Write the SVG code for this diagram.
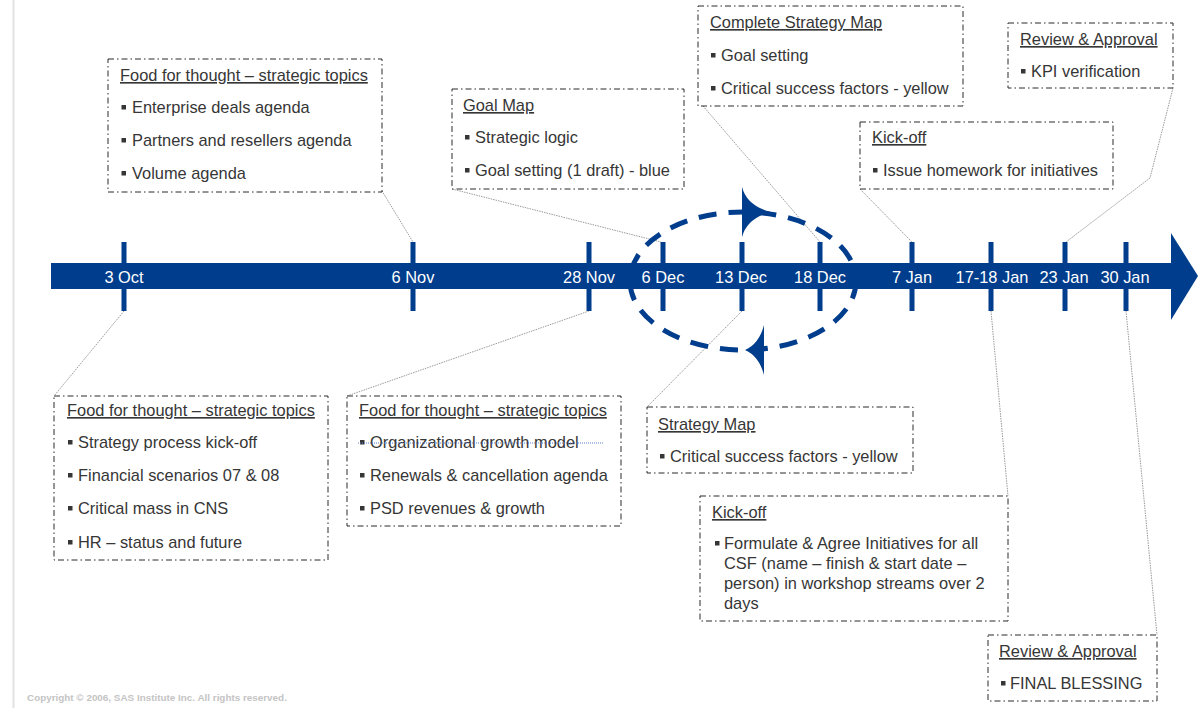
<svg xmlns="http://www.w3.org/2000/svg" width="1204" height="708" viewBox="0 0 1204 708">
  <style>
    text { font-family: "Liberation Sans", Arial, sans-serif; font-size: 16.4px; fill: #363636; }
    .title { text-decoration: underline; }
    .date { fill: #ffffff; text-anchor: middle; }
    .box { fill: #ffffff; stroke: #2a2a2a; stroke-width: 1; stroke-dasharray: 6 3 1.5 3; }
    .bul { fill: #363636; }
    .link { fill: none; stroke: #9a9a9a; stroke-width: 1; stroke-dasharray: 1.5 1; }
    .tick { fill: #003d8c; }
    .copy { font-size: 9.9px; font-weight: bold; fill: #c4c4c4; }
  </style>
  <defs>
    <rect id="bullet" width="4.5" height="4.5"/>
  </defs>

  <rect width="1204" height="708" fill="#ffffff"/>
  <!-- page edge -->
  <rect x="12.5" y="0" width="2" height="708" fill="#e2e2e2"/>

  <!-- call-out leader lines -->
  <g id="connectors">
    <line class="link" x1="382" y1="191" x2="413" y2="242"/>
    <line class="link" x1="452" y1="189" x2="661" y2="242"/>
    <line class="link" x1="703" y1="106" x2="820" y2="242"/>
    <line class="link" x1="860" y1="189" x2="912" y2="242"/>
    <polyline class="link" points="1173,88 1150,178 1066,242"/>
    <line class="link" x1="124" y1="311" x2="54" y2="396"/>
    <line class="link" x1="589" y1="311" x2="347" y2="396"/>
    <line class="link" x1="742" y1="311" x2="647" y2="407"/>
    <line class="link" x1="991" y1="311" x2="1008" y2="496"/>
    <line class="link" x1="1126" y1="311" x2="1157" y2="635"/>
  </g>

  <!-- timeline -->
  <g id="timeline">
    <rect x="51" y="263" width="1122" height="26" fill="#003d8c"/>
    <polygon points="1171,233 1198,276 1171,320" fill="#003d8c"/>
    <rect class="tick" x="121.5" y="242" width="5" height="69"/>
    <rect class="tick" x="410.5" y="242" width="5" height="69"/>
    <rect class="tick" x="586.5" y="242" width="5" height="69"/>
    <rect class="tick" x="660.5" y="242" width="5" height="69"/>
    <rect class="tick" x="739.5" y="242" width="5" height="69"/>
    <rect class="tick" x="817.5" y="242" width="5" height="69"/>
    <rect class="tick" x="909.5" y="242" width="5" height="69"/>
    <rect class="tick" x="988.5" y="242" width="5" height="69"/>
    <rect class="tick" x="1062.5" y="242" width="5" height="69"/>
    <rect class="tick" x="1123.5" y="242" width="5" height="69"/>
    <text class="date" x="124" y="283">3 Oct</text>
    <text class="date" x="413" y="283">6 Nov</text>
    <text class="date" x="589" y="283">28 Nov</text>
    <text class="date" x="663" y="283">6 Dec</text>
    <text class="date" x="741" y="283">13 Dec</text>
    <text class="date" x="820" y="283">18 Dec</text>
    <text class="date" x="912" y="283">7 Jan</text>
    <text class="date" x="992" y="283">17-18 Jan</text>
    <text class="date" x="1064" y="283">23 Jan</text>
    <text class="date" x="1125" y="283">30 Jan</text>
  </g>

  <!-- iteration loop around December -->
  <g id="cycle">
    <ellipse cx="743" cy="281" rx="113" ry="69" fill="none" stroke="#003d8c" stroke-width="5" stroke-dasharray="18 12"/>
    <path d="M742,187 Q747,206 771,212 Q747,218 742,237 Z" fill="#003d8c"/>
    <path d="M764,325 Q759,344 745,350 Q759,356 764,375 Z" fill="#003d8c"/>
  </g>

  <g id="food-nov">
    <rect class="box" x="108" y="59" width="274" height="133"/>
    <text class="title" x="120" y="81">Food for thought – strategic topics</text>
    <use href="#bullet" class="bul" x="121.5" y="105"/>
    <text x="132" y="113">Enterprise deals agenda</text>
    <use href="#bullet" class="bul" x="121.5" y="138"/>
    <text x="132" y="146">Partners and resellers agenda</text>
    <use href="#bullet" class="bul" x="121.5" y="171"/>
    <text x="132" y="179">Volume agenda</text>
  </g>

  <g id="goal-map">
    <rect class="box" x="452" y="89" width="232" height="100"/>
    <text class="title" x="463" y="111">Goal Map</text>
    <use href="#bullet" class="bul" x="465" y="135"/>
    <text x="475" y="143">Strategic logic</text>
    <use href="#bullet" class="bul" x="465" y="168"/>
    <text x="475" y="176">Goal setting (1 draft) - blue</text>
  </g>

  <g id="complete-strategy-map">
    <rect class="box" x="698" y="6" width="265" height="100"/>
    <text class="title" x="710" y="28">Complete Strategy Map</text>
    <use href="#bullet" class="bul" x="711" y="53"/>
    <text x="721" y="61">Goal setting</text>
    <use href="#bullet" class="bul" x="711" y="86"/>
    <text x="721" y="94">Critical success factors - yellow</text>
  </g>

  <g id="review-kpi">
    <rect class="box" x="1008" y="23" width="165" height="65"/>
    <text class="title" x="1020" y="45">Review &amp; Approval</text>
    <use href="#bullet" class="bul" x="1021" y="69"/>
    <text x="1031" y="77">KPI verification</text>
  </g>

  <g id="kickoff-jan7">
    <rect class="box" x="860" y="122" width="253" height="67"/>
    <text class="title" x="872" y="143">Kick-off</text>
    <use href="#bullet" class="bul" x="873" y="168"/>
    <text x="883" y="176">Issue homework for initiatives</text>
  </g>

  <g id="food-oct">
    <rect class="box" x="54" y="396" width="274" height="164"/>
    <text class="title" x="67" y="416">Food for thought – strategic topics</text>
    <use href="#bullet" class="bul" x="68" y="440"/>
    <text x="78" y="448">Strategy process kick-off</text>
    <use href="#bullet" class="bul" x="68" y="473"/>
    <text x="78" y="481">Financial scenarios 07 &amp; 08</text>
    <use href="#bullet" class="bul" x="68" y="506"/>
    <text x="78" y="514">Critical mass in CNS</text>
    <use href="#bullet" class="bul" x="68" y="540"/>
    <text x="78" y="548">HR – status and future</text>
  </g>

  <g id="food-late-nov">
    <rect class="box" x="347" y="396" width="274" height="130"/>
    <text class="title" x="359" y="416">Food for thought – strategic topics</text>
    <use href="#bullet" class="bul" x="360" y="440"/>
    <text x="370" y="448">Organizational growth model</text>
    <line x1="358" y1="443" x2="604" y2="443" stroke="#5a7fc4" stroke-width="1" stroke-dasharray="1 1"/>
    <use href="#bullet" class="bul" x="360" y="473"/>
    <text x="370" y="481">Renewals &amp; cancellation agenda</text>
    <use href="#bullet" class="bul" x="360" y="506"/>
    <text x="370" y="514">PSD revenues &amp; growth</text>
  </g>

  <g id="strategy-map">
    <rect class="box" x="647" y="407" width="266" height="66"/>
    <text class="title" x="658" y="430">Strategy Map</text>
    <use href="#bullet" class="bul" x="660" y="454"/>
    <text x="670" y="462">Critical success factors - yellow</text>
  </g>

  <g id="kickoff-workshop">
    <rect class="box" x="700" y="496" width="308" height="125"/>
    <text class="title" x="712" y="518">Kick-off</text>
    <use href="#bullet" class="bul" x="715" y="541"/>
    <text x="724" y="549">Formulate &amp; Agree Initiatives for all</text>
    <text x="724" y="569">CSF (name – finish &amp; start date –</text>
    <text x="724" y="589">person) in workshop streams over 2</text>
    <text x="724" y="609">days</text>
  </g>

  <g id="review-final">
    <rect class="box" x="988" y="635" width="169" height="66"/>
    <text class="title" x="999" y="657">Review &amp; Approval</text>
    <use href="#bullet" class="bul" x="1001" y="681"/>
    <text x="1010" y="689">FINAL BLESSING</text>
  </g>

  <text class="copy" x="27" y="701">Copyright © 2006, SAS Institute Inc. All rights reserved.</text>
</svg>
